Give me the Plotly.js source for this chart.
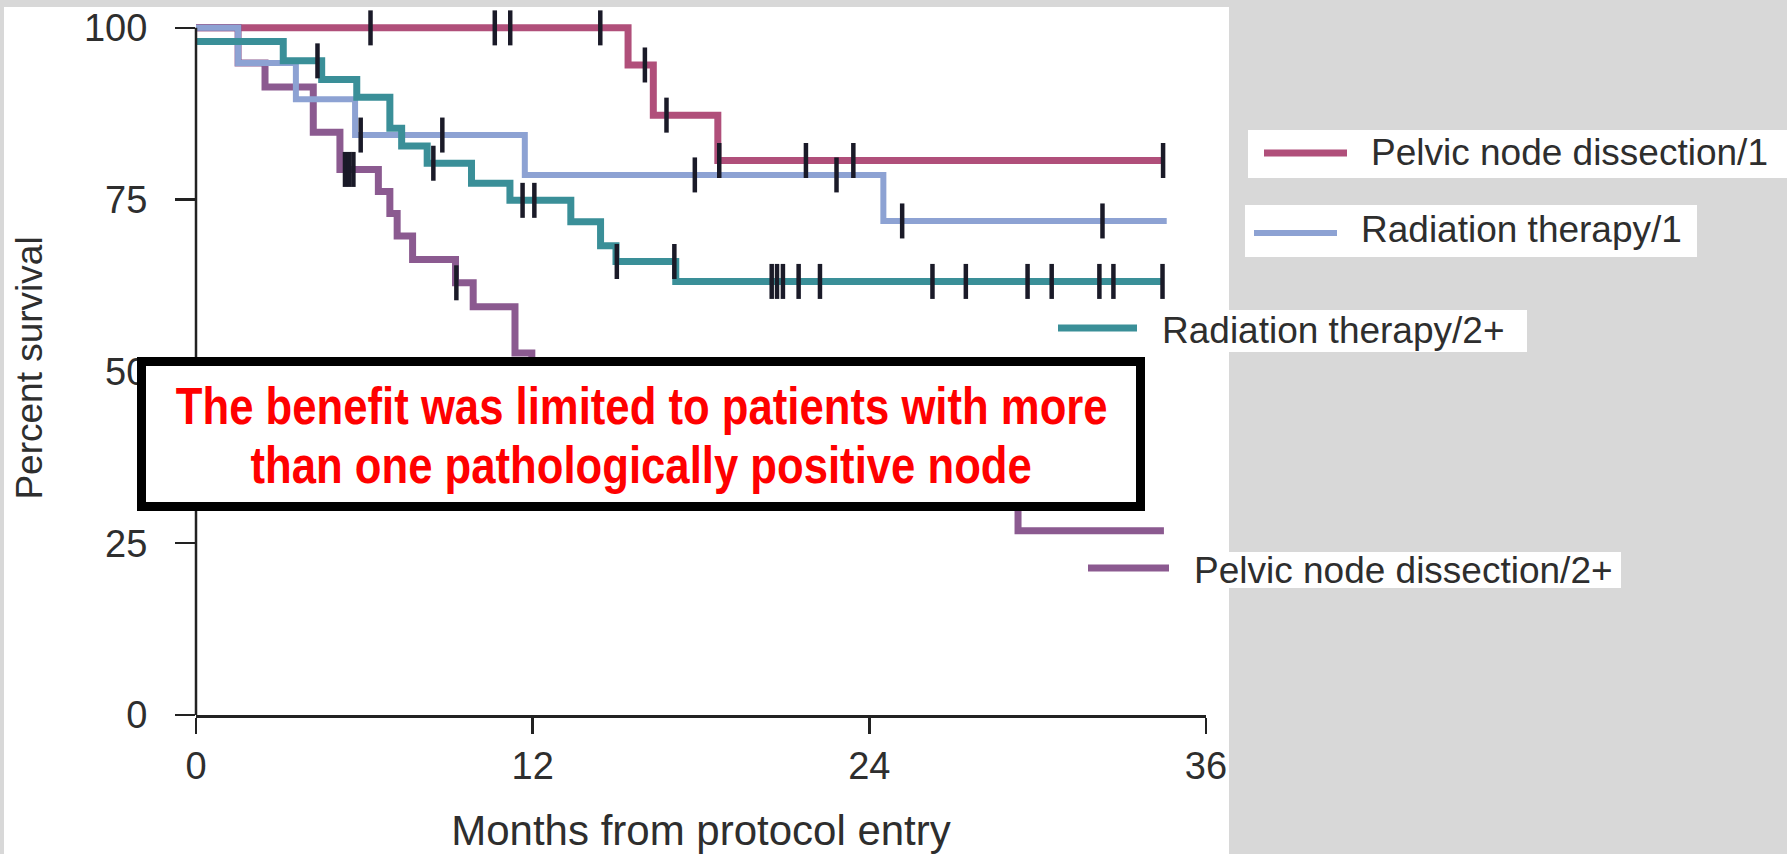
<!DOCTYPE html>
<html><head><meta charset="utf-8">
<script src="https://cdn.plot.ly/plotly-3.0.1.min.js"></script>
<style>html,body{margin:0;padding:0;background:#d8d8d8;overflow:hidden;} #chart{width:1787px;height:854px;}</style>
</head><body><div id="chart"></div>
<script>
// ---- Data (months, percent survival) ----
const seriesNames = ["Pelvic node dissection/1", "Radiation therapy/1", "Radiation therapy/2+", "Pelvic node dissection/2+"];

// Pelvic node dissection/1
const pnd1Times  = [0, 15.4, 16.3, 18.6];
const pnd1Surv   = [100, 94.6, 87.3, 80.7];
const pnd1End    = 34.5;
const pnd1Cens   = [6.22, 10.65, 11.2, 14.41, 16.0, 16.77, 18.65, 21.74, 23.43, 34.47];

// Radiation therapy/1
const rt1Times   = [0, 1.5, 3.56, 5.67, 11.72, 24.5];
const rt1Surv    = [100, 94.9, 89.6, 84.4, 78.6, 71.9];
const rt1End     = 34.6;
const rt1Cens    = [5.87, 8.78, 17.78, 22.83, 25.17, 32.31];

// Radiation therapy/2+
const rt2Times   = [0, 3.11, 4.48, 5.73, 6.91, 7.33, 8.24, 9.82, 11.19, 13.36, 14.42, 14.97, 17.1];
const rt2Surv    = [98.0, 95.2, 92.5, 89.9, 85.4, 82.8, 80.3, 77.4, 74.9, 71.8, 68.3, 66.0, 63.1];
const rt2End     = 34.45;
const rt2Cens    = [4.33, 8.46, 11.64, 12.06, 15.0, 17.05, 20.52, 20.71, 20.92, 21.48, 22.24, 26.25, 27.44, 29.64, 30.5, 32.2, 32.7, 34.45];

// Pelvic node dissection/2+ (the stretch between ~12 and ~29 months is hidden behind the text box; level estimated)
const pnd2Times  = [0, 1.5, 2.46, 4.18, 5.13, 6.5, 6.91, 7.17, 7.72, 9.25, 9.88, 11.37, 11.97, 29.3];
const pnd2Surv   = [100, 94.9, 91.4, 84.8, 79.4, 76.2, 73.0, 69.7, 66.3, 62.9, 59.4, 52.7, 37.0, 26.8];
const pnd2End    = 34.5;
const pnd2Cens   = [5.31, 5.46, 5.61, 9.28];

const xTicks = [0, 12, 24, 36];
const yTicks = [0, 25, 50, 75, 100];
const xTitle = "Months from protocol entry";
const yTitle = "Percent survival";
const boxLines = ["The benefit was limited to patients with more", "than one pathologically positive node"];

// ---- styling ----
const colRed = '#b04f7a', colBlue = '#8da2d3', colTeal = '#3a8f98', colPurple = '#8b5a90';
const tickCol = '#1a1a28';

function stepAt(t, s, c) { let v = s[0]; for (let i = 0; i < t.length; i++) { if (t[i] <= c) v = s[i]; } return v; }
function curve(t, s, end, color, width) {
  return {type: 'scatter', mode: 'lines', x: t.concat([end]), y: s.concat([s[s.length - 1]]),
    line: {shape: 'hv', color: color, width: width}, showlegend: false, hoverinfo: 'skip'};
}
function cens(t, s, c) {
  return {type: 'scatter', mode: 'markers', x: c, y: c.map(v => stepAt(t, s, v)),
    marker: {symbol: 'line-ns', size: 25, color: tickCol, line: {width: 4.5, color: tickCol}},
    cliponaxis: false, showlegend: false, hoverinfo: 'skip'};
}

const data = [
  curve(pnd1Times, pnd1Surv, pnd1End, colRed, 7),
  curve(pnd2Times, pnd2Surv, pnd2End, colPurple, 7),
  curve(rt1Times, rt1Surv, rt1End, colBlue, 6),
  curve(rt2Times, rt2Surv, rt2End, colTeal, 7),
  cens(pnd1Times, pnd1Surv, pnd1Cens),
  cens(rt1Times, rt1Surv, rt1Cens),
  cens(rt2Times, rt2Surv, rt2Cens),
  cens(pnd2Times, pnd2Surv, pnd2Cens)
];

const txtFont = 'Liberation Sans, Arial, Helvetica, sans-serif';
const txtCol = '#2e2e2e';

// pixel -> paper helpers (plot area: x 196..1206, y 21..715)
const L = 196, R = 581, T = 21, B = 139, W = 1787 - L - R, H = 854 - T - B;
const px = v => (v - L) / W;
const py = v => (854 - B - v) / H;

const shapes = [
  // white chart canvas
  {type: 'rect', xref: 'paper', yref: 'paper', x0: px(4), x1: px(1229), y0: py(854), y1: py(7), fillcolor: '#ffffff', line: {width: 0}, layer: 'below'},
  // legend boxes
  {type: 'rect', xref: 'paper', yref: 'paper', x0: px(1248), x1: px(1787), y0: py(178), y1: py(130), fillcolor: '#ffffff', line: {width: 0}, layer: 'below'},
  {type: 'rect', xref: 'paper', yref: 'paper', x0: px(1245), x1: px(1697), y0: py(257), y1: py(205), fillcolor: '#ffffff', line: {width: 0}, layer: 'below'},
  {type: 'rect', xref: 'paper', yref: 'paper', x0: px(1100), x1: px(1527), y0: py(352), y1: py(310), fillcolor: '#ffffff', line: {width: 0}, layer: 'below'},
  {type: 'rect', xref: 'paper', yref: 'paper', x0: px(1180), x1: px(1621), y0: py(588), y1: py(552), fillcolor: '#ffffff', line: {width: 0}, layer: 'below'},
  // legend line samples
  {type: 'line', xref: 'paper', yref: 'paper', x0: px(1264), x1: px(1347), y0: py(153), y1: py(153), line: {color: colRed, width: 7}},
  {type: 'line', xref: 'paper', yref: 'paper', x0: px(1254), x1: px(1337), y0: py(233), y1: py(233), line: {color: colBlue, width: 6}},
  {type: 'line', xref: 'paper', yref: 'paper', x0: px(1058), x1: px(1137), y0: py(328), y1: py(328), line: {color: colTeal, width: 7}},
  {type: 'line', xref: 'paper', yref: 'paper', x0: px(1088), x1: px(1169), y0: py(568), y1: py(568), line: {color: colPurple, width: 7}},
  // y axis line (0..100)
  {type: 'line', xref: 'paper', yref: 'paper', x0: 0, x1: 0, y0: 0, y1: 100 / 101, line: {color: '#222', width: 2.5}, layer: 'above'},
  // text box
  {type: 'rect', xref: 'paper', yref: 'paper', x0: px(141.5), x1: px(1140.5), y0: py(506.5), y1: py(361.5), fillcolor: '#ffffff', line: {color: '#000', width: 9}, layer: 'above'}
];

const legendPos = [[1369, 152], [1359, 230], [1160, 330], [1192, 570]];
const annotations = seriesNames.map((n, i) => ({
  xref: 'paper', yref: 'paper', x: px(legendPos[i][0]), y: py(legendPos[i][1]), xanchor: 'left', yanchor: 'middle',
  text: n, showarrow: false, font: {family: txtFont, size: 37, color: txtCol}
}));
const boxLineY = [406, 465];
boxLines.forEach((t, i) => annotations.push({
  xref: 'paper', yref: 'paper', x: px(641), y: py(boxLineY[i]), xanchor: 'center', yanchor: 'middle',
  text: '<b>' + t + '</b>', showarrow: false, name: 'boxline',
  font: {family: txtFont, size: 52, color: '#ff0000'}
}));

const layout = {
  width: 1787, height: 854,
  margin: {l: L, r: R, t: T, b: B, pad: 0},
  paper_bgcolor: '#d8d8d8', plot_bgcolor: '#ffffff',
  showlegend: false,
  xaxis: {range: [0, 36], tickvals: xTicks, ticktext: xTicks.map(String), ticks: 'outside', ticklen: 16, tickwidth: 2.5, tickcolor: '#222',
    showline: true, linecolor: '#222', linewidth: 2.5, showgrid: false, zeroline: false, fixedrange: true,
    tickfont: {family: txtFont, size: 38, color: txtCol}, ticklabelstandoff: 0,
    title: {text: xTitle, font: {family: txtFont, size: 42, color: txtCol}, standoff: 30}},
  yaxis: {range: [0, 101], tickvals: yTicks, ticktext: yTicks.map(String), ticks: 'outside', ticklen: 20, tickwidth: 2.5, tickcolor: '#222',
    showline: false, showgrid: false, zeroline: false, fixedrange: true,
    tickfont: {family: txtFont, size: 38, color: txtCol}, ticklabelstandoff: 20,
    title: {text: yTitle, font: {family: txtFont, size: 37, color: txtCol}, standoff: 30}},
  shapes: shapes,
  annotations: annotations
};

Plotly.newPlot('chart', data, layout, {displayModeBar: false, staticPlot: true}).then(function (gd) {
  // the reference uses a condensed bold face: narrow the box text horizontally about its centre
  gd.querySelectorAll('text.annotation-text').forEach(function (el) {
    if (el.textContent.indexOf('benefit') < 0 && el.textContent.indexOf('pathologically') < 0) return;
    const bb = el.getBBox();
    const cx = bb.x + bb.width / 2;
    const prev = el.getAttribute('transform') || '';
    el.setAttribute('transform', prev + ' translate(' + cx + ',0) scale(0.84,1) translate(' + (-cx) + ',0)');
  });
});
</script></body></html>
